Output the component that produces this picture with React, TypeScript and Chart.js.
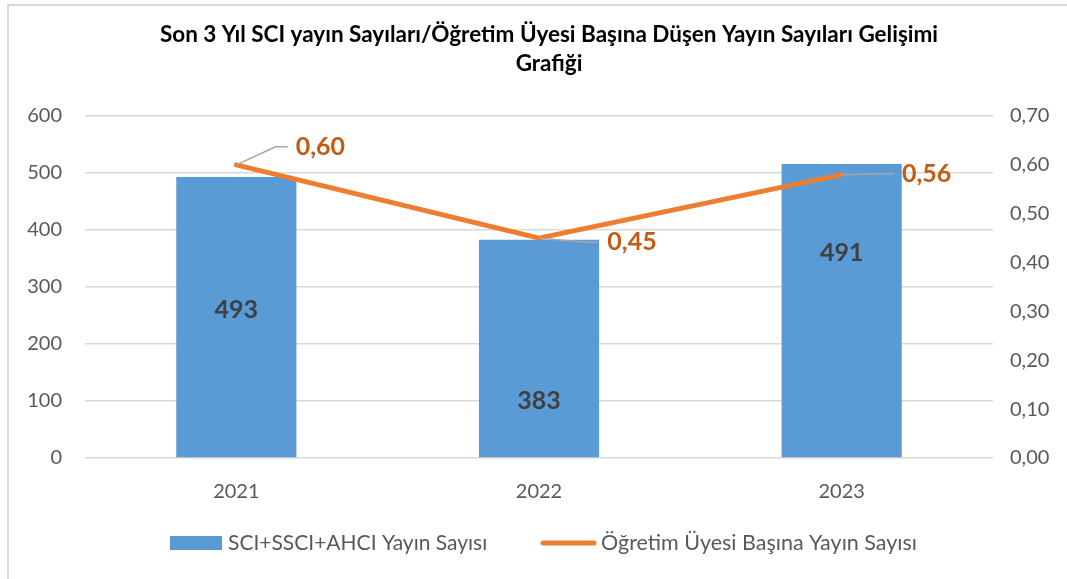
import React, { useEffect, useRef } from "react";
import { Chart, registerables } from "chart.js";

Chart.register(...registerables);

const TITLE_LINES = [
  "Son 3 Yıl SCI yayın Sayıları/Öğretim Üyesi Başına Düşen Yayın Sayıları Gelişimi",
  "Grafiği",
];
const CATEGORIES = ["2021", "2022", "2023"];
const BAR_SERIES_NAME = "SCI+SSCI+AHCI Yayın Sayısı";
const LINE_SERIES_NAME = "Öğretim Üyesi Başına Yayın Sayısı";
const BAR_VALUES = [493, 383, 516];
const BAR_VALUE_TEXT = ["493", "383", "491"];
const LINE_VALUES = [0.6, 0.45, 0.58];
const LINE_VALUE_TEXT = ["0,60", "0,45", "0,56"];
const LEFT_AXIS = { min: 0, max: 600, step: 100 };
const RIGHT_AXIS = { min: 0, max: 0.7, step: 0.1 };

const FONT = "Lato, 'Open Sans', sans-serif";
const BAR_COLOR = "#5B9BD5";
const LINE_COLOR = "#ED7D31";
const LINE_LABEL_COLOR = "#C55A11";
const TICK_COLOR = "#595959";
const GRID_COLOR = "#D9D9D9";

// label placement styles (pixel offsets)
const BAR_LABEL_SHIFT = [-7, 52, -58];
const LINE_LABEL_DX = [84, 93, 85];
const LINE_LABEL_DY = [-18, 4, -1];

const overlayPlugin = {
  id: "overlay",
  beforeDraw(chart: any) {
    const ctx = chart.ctx as CanvasRenderingContext2D;
    const W = chart.width;
    const H = chart.height;
    ctx.save();
    ctx.fillStyle = "#FFFFFF";
    ctx.fillRect(0, 0, W, H);
    // frame
    ctx.strokeStyle = GRID_COLOR;
    ctx.lineWidth = 2;
    ctx.beginPath();
    ctx.moveTo(8, H);
    ctx.lineTo(8, 5);
    ctx.lineTo(W, 5);
    ctx.stroke();
    // title
    ctx.fillStyle = "#000000";
    ctx.font = `bold 22.5px ${FONT}`;
    ctx.textAlign = "center";
    ctx.textBaseline = "middle";
    ctx.fillText(TITLE_LINES[0], 549, 35);
    ctx.fillText(TITLE_LINES[1], 549, 64);
    // legend
    const ly = 543;
    ctx.fillStyle = BAR_COLOR;
    ctx.fillRect(170, ly - 7, 52, 14);
    ctx.fillStyle = TICK_COLOR;
    ctx.font = `21px ${FONT}`;
    ctx.textAlign = "left";
    ctx.fillText(BAR_SERIES_NAME, 228, ly);
    ctx.strokeStyle = LINE_COLOR;
    ctx.lineWidth = 5;
    ctx.lineCap = "round";
    ctx.beginPath();
    ctx.moveTo(543, ly);
    ctx.lineTo(594, ly);
    ctx.stroke();
    ctx.font = `21.5px ${FONT}`;
    ctx.fillText(LINE_SERIES_NAME, 601, ly);
    ctx.restore();
  },
  afterDatasetsDraw(chart: any) {
    const ctx = chart.ctx as CanvasRenderingContext2D;
    const barMeta = chart.getDatasetMeta(0);
    const lineMeta = chart.getDatasetMeta(1);
    ctx.save();
    ctx.textAlign = "center";
    ctx.textBaseline = "middle";
    ctx.font = `bold 25px ${FONT}`;
    ctx.fillStyle = "#404040";
    barMeta.data.forEach((bar: any, i: number) => {
      const cy = (bar.y + bar.base) / 2 + BAR_LABEL_SHIFT[i];
      ctx.fillText(BAR_VALUE_TEXT[i], bar.x, cy);
    });
    lineMeta.data.forEach((pt: any, i: number) => {
      const text = LINE_VALUE_TEXT[i];
      ctx.font = `bold 25px ${FONT}`;
      const w = ctx.measureText(text).width;
      const cx = pt.x + LINE_LABEL_DX[i];
      const cy = pt.y + LINE_LABEL_DY[i];
      const left = cx - w / 2;
      ctx.strokeStyle = "#A6A6A6";
      ctx.lineWidth = 1.5;
      ctx.lineCap = "butt";
      ctx.beginPath();
      ctx.moveTo(pt.x, pt.y);
      ctx.lineTo(left - 20, cy);
      ctx.lineTo(left - 8, cy);
      ctx.stroke();
      ctx.fillStyle = LINE_LABEL_COLOR;
      ctx.fillText(text, cx, cy);
    });
    ctx.restore();
  },
};

export default function App() {
  const ref = useRef<HTMLCanvasElement | null>(null);

  useEffect(() => {
    document.body.style.margin = "0";
    const canvas = ref.current;
    if (!canvas) return;
    const chart = new Chart(canvas, {
      type: "bar",
      data: {
        labels: CATEGORIES,
        datasets: [
          {
            type: "bar",
            label: BAR_SERIES_NAME,
            data: BAR_VALUES,
            backgroundColor: BAR_COLOR,
            yAxisID: "y",
            order: 2,
            barPercentage: 1,
            categoryPercentage: 0.397,
          },
          {
            type: "line",
            label: LINE_SERIES_NAME,
            data: LINE_VALUES,
            borderColor: LINE_COLOR,
            backgroundColor: LINE_COLOR,
            borderWidth: 5,
            borderCapStyle: "round",
            borderJoinStyle: "round",
            pointRadius: 0,
            tension: 0,
            yAxisID: "y1",
            order: 1,
          } as any,
        ],
      },
      options: {
        animation: false,
        responsive: false,
        devicePixelRatio: 1,
        layout: { padding: { top: 116, left: 0, right: 0, bottom: 0 } },
        plugins: {
          legend: { display: false },
          title: { display: false },
          tooltip: { enabled: false },
        },
        scales: {
          x: {
            grid: { display: false, drawTicks: false },
            border: { display: false },
            ticks: {
              color: TICK_COLOR,
              font: { family: FONT, size: 20 },
              padding: 22,
            },
            afterFit(scale: any) {
              scale.height = 121;
            },
          },
          y: {
            position: "left",
            min: LEFT_AXIS.min,
            max: LEFT_AXIS.max,
            grid: { color: GRID_COLOR, lineWidth: 1.5, drawTicks: false },
            border: { display: false },
            ticks: {
              stepSize: LEFT_AXIS.step,
              color: TICK_COLOR,
              font: { family: FONT, size: 20 },
              padding: 23,
            },
            afterFit(scale: any) {
              scale.width = 85;
            },
          },
          y1: {
            position: "right",
            min: RIGHT_AXIS.min,
            max: RIGHT_AXIS.max,
            grid: { display: false, drawTicks: false },
            border: { display: false },
            ticks: {
              stepSize: RIGHT_AXIS.step,
              color: TICK_COLOR,
              font: { family: FONT, size: 20 },
              padding: 17,
              callback: (v: any) => Number(v).toFixed(2).replace(".", ","),
            },
            afterFit(scale: any) {
              scale.width = 74;
            },
          },
        },
      } as any,
      plugins: [overlayPlugin],
    });
    return () => chart.destroy();
  }, []);

  return (
    <div style={{ width: 1067, height: 579 }}>
      <canvas ref={ref} width={1067} height={579} style={{ display: "block" }} />
    </div>
  );
}
